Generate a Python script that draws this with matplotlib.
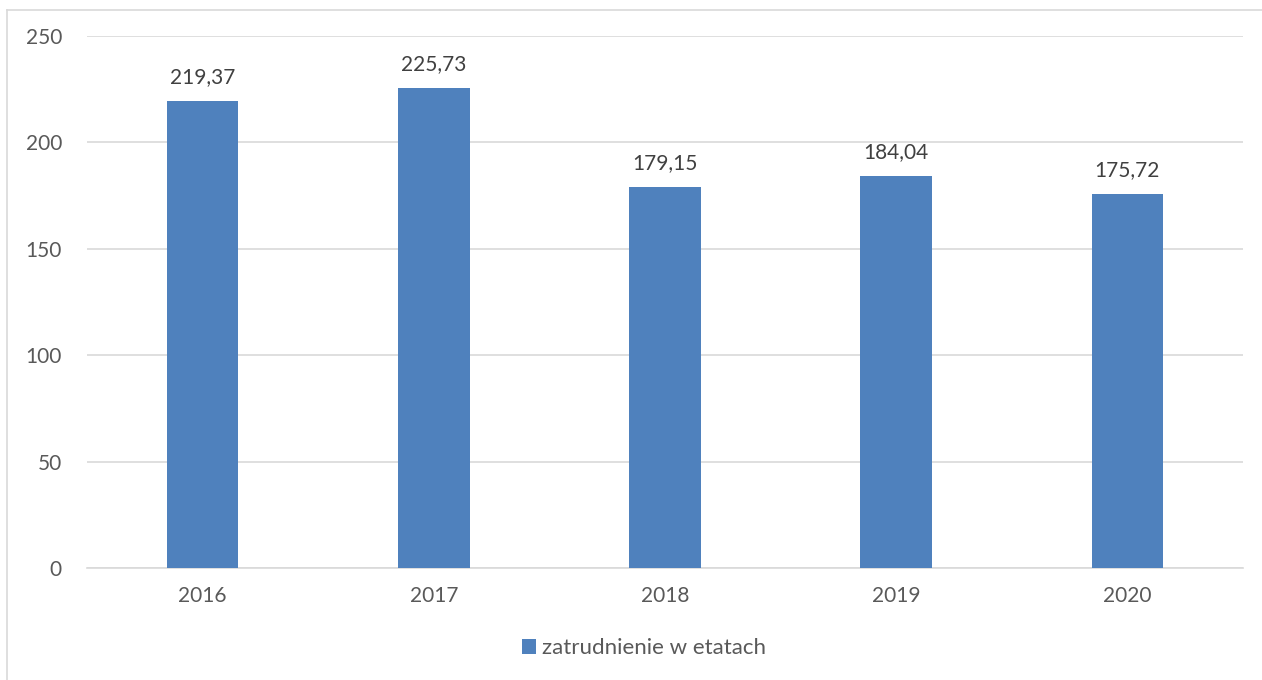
import matplotlib.pyplot as plt
from matplotlib.lines import Line2D
from matplotlib.patches import Patch
import numpy as np

years = ["2016", "2017", "2018", "2019", "2020"]
etaty = [219.37, 225.73, 179.15, 184.04, 175.72]
etaty_txt = ["219,37", "225,73", "179,15", "184,04", "175,72"]

BLUE = "#4F81BD"
TXT = "#595959"
plt.rcParams['font.family'] = ['Lato', 'DejaVu Sans']

fig = plt.figure(figsize=(12.62, 6.8), dpi=100)
ax = fig.add_axes([87/1262, 1-568/680, (1243-87)/1262, (568-36)/680])

x = np.arange(len(years))
ax.bar(x, etaty, width=0.31, color=BLUE, zorder=3)
for xi, v, t in zip(x, etaty, etaty_txt):
    ax.annotate(t, (xi, v), xytext=(0, 10), textcoords="offset points",
                ha="center", va="bottom", fontsize=15, color="#404040")

ax.set_xlim(-0.5, len(years) - 0.5)
ax.set_ylim(0, 250)
ax.set_yticks(range(0, 251, 50))
ax.set_xticks(x)
ax.set_xticklabels(years)
ax.tick_params(axis="both", length=0, colors=TXT, labelsize=15)
ax.tick_params(axis="y", pad=18)
ax.tick_params(axis="x", pad=13)
ax.yaxis.grid(True, color="#D9D9D9", linewidth=1.2, zorder=0)
for s in ["top", "right", "left"]:
    ax.spines[s].set_visible(False)
ax.spines["bottom"].set_color("#D9D9D9")
ax.spines["bottom"].set_linewidth(1.2)

handle = Patch(facecolor=BLUE)
fig.legend([handle], ["zatrudnienie w etatach"], loc="center",
           bbox_to_anchor=(644/1262, 1-648/680), frameon=False,
           fontsize=16, labelcolor=TXT, handlelength=0.65, handleheight=0.65,
           handletextpad=0.25)

# chart border (left and top edge visible)
fig.add_artist(Line2D([7/1262, 7/1262], [0, 1-10/680], color="#D9D9D9", lw=1.2))
fig.add_artist(Line2D([7/1262, 1], [1-10/680, 1-10/680], color="#D9D9D9", lw=1.2))

fig.savefig("out.png", dpi=100)
